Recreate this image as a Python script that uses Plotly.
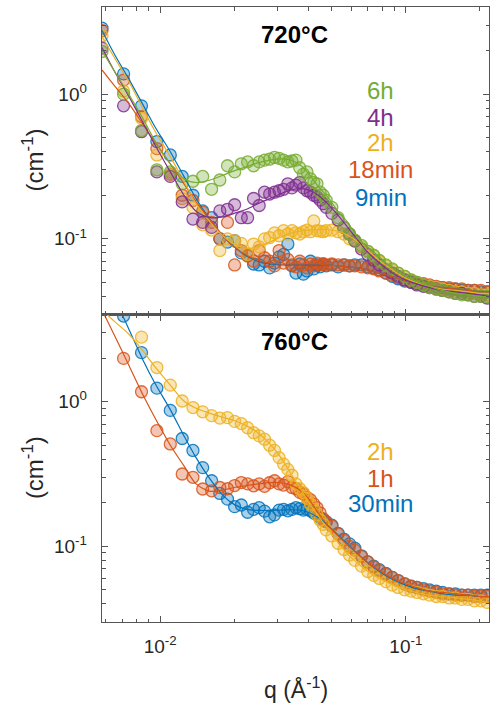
import math
import plotly.graph_objects as go

# ---------------- data ----------------
# scattering vector q (1/Angstrom) of the measured points
q = [0.0058, 0.0071, 0.0084, 0.0097, 0.0110, 0.0123, 0.0136, 0.0149, 0.0162, 0.0175,
     0.0188, 0.0201, 0.0214, 0.0227, 0.0240, 0.0253, 0.0266, 0.0279, 0.0292, 0.0305,
     0.0318, 0.0331, 0.0344, 0.0357, 0.0370, 0.0383, 0.0396, 0.0409, 0.0422, 0.0435,
     0.0448, 0.0461, 0.0474, 0.050, 0.053, 0.056, 0.059, 0.062, 0.066, 0.070,
     0.074, 0.078, 0.083, 0.088, 0.093, 0.099, 0.105, 0.111, 0.118, 0.125,
     0.133, 0.141, 0.150, 0.159, 0.169, 0.179, 0.190, 0.202, 0.214]

# 720 C panel
I720_9min = [2.86, 1.38, 0.83, 0.47, 0.38, 0.27, 0.20, 0.156, 0.14, 0.10,
             0.095, 0.097, 0.080, 0.077, 0.067, 0.066, 0.070, 0.063, 0.068, 0.075,
             0.078, 0.092, 0.065, 0.058, 0.067, 0.057, 0.060, 0.070, 0.062, 0.066,
             0.064, 0.067, 0.065, 0.066, 0.064, 0.066, 0.065, 0.066, 0.066, 0.064,
             0.063, 0.061, 0.058, 0.055, 0.053, 0.051, 0.050, 0.049, 0.048, 0.047,
             0.046, 0.046, 0.045, 0.045, 0.044, 0.044, 0.044, 0.043, 0.043]
I720_18min = [2.75, 1.25, 0.70, 0.42, 0.28, 0.20, 0.184, 0.153, 0.13, 0.10,
              0.13, 0.066, 0.083, 0.076, 0.070, 0.083, 0.074, 0.070, 0.065, 0.083,
              0.068, 0.072, 0.066, 0.064, 0.070, 0.066, 0.063, 0.067, 0.065, 0.068,
              0.066, 0.067, 0.066, 0.067, 0.066, 0.066, 0.065, 0.065, 0.064, 0.063,
              0.062, 0.060, 0.058, 0.056, 0.054, 0.052, 0.051, 0.050, 0.049, 0.048,
              0.047, 0.046, 0.046, 0.045, 0.045, 0.044, 0.044, 0.044, 0.043]
I720_2h = [2.53, 1.05, 0.68, 0.38, 0.28, 0.19, 0.165, 0.125, 0.115, 0.083,
           0.10, 0.097, 0.093, 0.078, 0.092, 0.088, 0.10, 0.102, 0.11, 0.105,
           0.114, 0.108, 0.114, 0.11, 0.108, 0.112, 0.115, 0.112, 0.133, 0.114,
           0.113, 0.112, 0.114, 0.115, 0.112, 0.108, 0.10, 0.096, 0.088, 0.082,
           0.076, 0.070, 0.065, 0.061, 0.058, 0.055, 0.052, 0.050, 0.048, 0.047,
           0.046, 0.045, 0.044, 0.043, 0.043, 0.042, 0.042, 0.041, 0.041]
I720_4h = [2.08, 0.83, 0.55, 0.29, 0.27, 0.18, 0.137, 0.13, 0.12, 0.156,
           0.16, 0.172, 0.14, 0.14, 0.19, 0.17, 0.21, 0.204, 0.21, 0.215,
           0.22, 0.24, 0.225, 0.235, 0.245, 0.225, 0.215, 0.21, 0.20, 0.195,
           0.185, 0.175, 0.165, 0.15, 0.135, 0.12, 0.108, 0.097, 0.085, 0.078,
           0.071, 0.066, 0.061, 0.058, 0.055, 0.052, 0.050, 0.048, 0.047, 0.046,
           0.045, 0.044, 0.043, 0.042, 0.042, 0.041, 0.040, 0.040, 0.039]
I720_6h = [1.97, 1.00, 0.56, 0.30, 0.29, 0.24, 0.25, 0.27, 0.22, 0.255,
           0.32, 0.29, 0.33, 0.34, 0.32, 0.34, 0.35, 0.355, 0.365, 0.36,
           0.35, 0.34, 0.345, 0.35, 0.31, 0.28, 0.29, 0.26, 0.245, 0.24,
           0.21, 0.20, 0.185, 0.165, 0.14, 0.12, 0.108, 0.098, 0.09, 0.082,
           0.077, 0.071, 0.066, 0.062, 0.058, 0.055, 0.052, 0.050, 0.048, 0.046,
           0.045, 0.044, 0.043, 0.042, 0.041, 0.041, 0.040, 0.040, 0.040]

# 760 C panel (None = point outside the visible range)
I760_30min = [None, 3.9, 2.18, 1.24, 0.87, 0.556, 0.46, 0.35, 0.284, 0.232,
              0.212, 0.188, 0.193, 0.172, 0.18, 0.185, 0.175, 0.16, 0.165, 0.178,
              0.18, 0.176, 0.18, 0.185, 0.182, 0.178, 0.18, 0.176, 0.17, 0.165,
              0.158, 0.152, 0.148, 0.14, 0.123, 0.112, 0.104, 0.097, 0.086, 0.078,
              0.073, 0.069, 0.065, 0.061, 0.058, 0.055, 0.053, 0.052, 0.051, 0.050,
              0.049, 0.048, 0.047, 0.047, 0.046, 0.046, 0.046, 0.046, 0.046]
I760_1h = [None, 1.99, 1.17, 0.63, 0.51, 0.316, 0.30, 0.249, 0.242, 0.255,
           0.25, 0.263, 0.276, 0.27, 0.262, 0.27, 0.26, 0.275, 0.284, 0.27,
           0.265, 0.28, 0.255, 0.25, 0.236, 0.23, 0.218, 0.21, 0.196, 0.185,
           0.17, 0.155, 0.148, 0.138, 0.122, 0.11, 0.10, 0.094, 0.085, 0.078,
           0.072, 0.068, 0.064, 0.061, 0.058, 0.055, 0.053, 0.052, 0.050, 0.049,
           0.048, 0.047, 0.047, 0.046, 0.046, 0.046, 0.045, 0.045, 0.045]
I760_2h = [None, None, 2.79, 1.72, 1.30, 1.01, 0.91, 0.85, 0.80, 0.77,
           0.775, 0.73, 0.705, 0.66, 0.61, 0.58, 0.55, 0.50, 0.46, 0.41,
           0.37, 0.34, 0.31, 0.27, 0.25, 0.235, 0.215, 0.196, 0.18, 0.165,
           0.152, 0.142, 0.13, 0.118, 0.105, 0.095, 0.087, 0.08, 0.073, 0.067,
           0.063, 0.06, 0.057, 0.054, 0.052, 0.05, 0.049, 0.048, 0.047, 0.046,
           0.045, 0.045, 0.044, 0.044, 0.043, 0.043, 0.042, 0.042, 0.041]

# model fit curves
q_fit = [0.0058, 0.0065, 0.0075, 0.0085, 0.0095, 0.011, 0.0125, 0.014, 0.016, 0.018,
         0.020, 0.0225, 0.025, 0.028, 0.031, 0.034, 0.037, 0.040, 0.044, 0.048,
         0.053, 0.058, 0.064, 0.070, 0.078, 0.087, 0.097, 0.11, 0.125, 0.14,
         0.16, 0.18, 0.20, 0.22]
fit720_9min = [2.75, 1.9, 1.25, 0.85, 0.6, 0.40, 0.27, 0.19, 0.135, 0.105,
               0.088, 0.076, 0.07, 0.067, 0.066, 0.066, 0.066, 0.066, 0.066, 0.066,
               0.065, 0.064, 0.063, 0.061, 0.058, 0.055, 0.052, 0.049, 0.047, 0.046,
               0.045, 0.044, 0.043, 0.043]
fit720_18min = [1.47, 1.15, 0.85, 0.62, 0.47, 0.33, 0.24, 0.18, 0.135, 0.105,
                0.088, 0.077, 0.071, 0.068, 0.067, 0.067, 0.067, 0.067, 0.067, 0.066,
                0.065, 0.064, 0.063, 0.061, 0.058, 0.055, 0.052, 0.049, 0.047, 0.046,
                0.045, 0.044, 0.043, 0.043]
fit720_2h = [2.5, 1.8, 1.2, 0.8, 0.56, 0.37, 0.25, 0.175, 0.13, 0.105,
             0.092, 0.086, 0.088, 0.095, 0.103, 0.109, 0.113, 0.115, 0.116, 0.116,
             0.113, 0.106, 0.095, 0.083, 0.071, 0.062, 0.055, 0.05, 0.047, 0.045,
             0.044, 0.043, 0.042, 0.042]
fit720_4h = [2.1, 1.45, 0.95, 0.64, 0.45, 0.29, 0.2, 0.155, 0.14, 0.142,
             0.15, 0.16, 0.175, 0.19, 0.205, 0.217, 0.222, 0.218, 0.2, 0.175,
             0.145, 0.12, 0.097, 0.081, 0.068, 0.059, 0.053, 0.049, 0.046, 0.044,
             0.043, 0.042, 0.041, 0.04]
fit720_6h = [2.0, 1.45, 0.98, 0.68, 0.48, 0.33, 0.26, 0.245, 0.255, 0.275,
             0.295, 0.315, 0.335, 0.35, 0.357, 0.35, 0.325, 0.285, 0.23, 0.195,
             0.155, 0.13, 0.1, 0.088, 0.075, 0.064, 0.057, 0.051, 0.047, 0.044,
             0.042, 0.041, 0.04, 0.04]
fit760_30min = [7.0, 5.2, 3.1, 1.95, 1.35, 0.88, 0.58, 0.41, 0.29, 0.225,
                0.195, 0.18, 0.177, 0.177, 0.178, 0.179, 0.178, 0.172, 0.158, 0.14,
                0.12, 0.103, 0.088, 0.077, 0.067, 0.06, 0.055, 0.051, 0.049, 0.047,
                0.046, 0.046, 0.045, 0.045]
fit760_1h = [4.3, 2.9, 1.75, 1.12, 0.78, 0.5, 0.36, 0.27, 0.24, 0.245,
             0.255, 0.263, 0.27, 0.276, 0.275, 0.265, 0.245, 0.215, 0.17, 0.14,
             0.118, 0.102, 0.088, 0.077, 0.068, 0.061, 0.056, 0.052, 0.049, 0.048,
             0.047, 0.046, 0.045, 0.045]
fit760_2h = [4.3, 3.6, 2.9, 2.25, 1.75, 1.3, 1.01, 0.9, 0.83, 0.78,
             0.74, 0.68, 0.61, 0.51, 0.41, 0.32, 0.255, 0.205, 0.162, 0.133,
             0.106, 0.088, 0.076, 0.067, 0.06, 0.055, 0.051, 0.048, 0.046, 0.045,
             0.044, 0.043, 0.042, 0.041]

labels720 = ["6h", "4h", "2h", "18min", "9min"]
labels760 = ["2h", "1h", "30min"]

# ---------------- style ----------------
BLUE, ORANGE, YELLOW, PURPLE, GREEN = "#0072BD", "#D95319", "#EDB120", "#7E2F8E", "#77AC30"
FONT = "Liberation Sans, Arial, Helvetica, sans-serif"
AXC = "#555555"
TXT = "#262626"


def rgba(h, a):
    h = h.lstrip("#")
    return "rgba(%d,%d,%d,%.2f)" % (int(h[0:2], 16), int(h[2:4], 16), int(h[4:6], 16), a)


fig = go.Figure()

top = [(I720_9min, fit720_9min, BLUE), (I720_18min, fit720_18min, ORANGE),
       (I720_2h, fit720_2h, YELLOW), (I720_4h, fit720_4h, PURPLE),
       (I720_6h, fit720_6h, GREEN)]
bot = [(I760_30min, fit760_30min, BLUE), (I760_1h, fit760_1h, ORANGE),
       (I760_2h, fit760_2h, YELLOW)]

for series, xa, ya in ((top, "x", "y"), (bot, "x2", "y2")):
    for vals, fit, col in series:
        fig.add_trace(go.Scatter(
            x=q, y=vals, mode="markers", xaxis=xa, yaxis=ya, showlegend=False,
            hoverinfo="skip",
            marker=dict(symbol="circle", size=12, color=rgba(col, 0.33),
                        line=dict(color=rgba(col, 0.85), width=1.3))))
    for vals, fit, col in series:
        fig.add_trace(go.Scatter(
            x=q_fit, y=fit, mode="lines", xaxis=xa, yaxis=ya, showlegend=False,
            hoverinfo="skip",
            line=dict(color=col, width=1.2, shape="spline", smoothing=0.8)))

xrange_ = [math.log10(0.0058), math.log10(0.218)]
yrange_ = [math.log10(0.03), math.log10(4.0)]

xminor = [0.006, 0.007, 0.008, 0.009, 0.02, 0.03, 0.04, 0.05, 0.06, 0.07, 0.08, 0.09, 0.2]
yminor = [0.03, 0.04, 0.05, 0.06, 0.07, 0.08, 0.09, 0.2, 0.3, 0.4, 0.5, 0.6, 0.7, 0.8, 0.9, 2, 3, 4]

common_ax = dict(type="log", showline=True, linecolor=AXC, linewidth=1.3, mirror="ticks",
                 ticks="inside", ticklen=6, tickwidth=1, tickcolor=AXC, showgrid=False,
                 zeroline=False, automargin=False,
                 tickfont=dict(family=FONT, size=19, color=TXT))

xax = dict(common_ax, range=xrange_, tickmode="array", tickvals=[0.01, 0.1],
           ticktext=["10<sup>-2</sup>", "10<sup>-1</sup>"],
           minor=dict(tickmode="array", tickvals=xminor, ticks="inside", ticklen=3.5,
                      tickcolor=AXC, showgrid=False))
yax = dict(common_ax, range=yrange_, tickmode="array", tickvals=[0.1, 1],
           ticktext=["10<sup>-1</sup>", "10<sup>0</sup>"], ticklabelstandoff=10,
           minor=dict(tickmode="array", tickvals=yminor, ticks="inside", ticklen=3.5,
                      tickcolor=AXC, showgrid=False))

fig.update_layout(
    width=492, height=708,
    margin=dict(l=102, r=3, t=7, b=86, autoexpand=False),
    paper_bgcolor="white", plot_bgcolor="white",
    hovermode=False,
    xaxis=dict(xax, domain=[0, 1], anchor="y", showticklabels=False),
    yaxis=dict(yax, domain=[0.5, 1], anchor="x"),
    xaxis2=dict(xax, domain=[0, 1], anchor="y2", ticklabelstandoff=7),
    yaxis2=dict(yax, domain=[0, 0.5], anchor="x2"),
)

ann = []


def add_text(x, y, text, size, color, bold=False, angle=0):
    ann.append(dict(x=x, y=y, xref="paper", yref="paper", text=("<b>%s</b>" % text) if bold else text,
                    showarrow=False, xanchor="center", yanchor="middle", textangle=angle,
                    font=dict(family=FONT, size=size, color=color)))


add_text(0.4987, 0.9545, "720°C", 24, "black", bold=True)
add_text(0.4987, 0.4553, "760°C", 24, "black", bold=True)

top_cols = [GREEN, PURPLE, YELLOW, ORANGE, BLUE]
top_y = [0.865, 0.821, 0.779, 0.735, 0.691]
for lab, c, yy in zip(labels720, top_cols, top_y):
    add_text(0.7209, yy, lab, 24, c)

bot_cols = [YELLOW, ORANGE, BLUE]
bot_y = [0.2769, 0.2341, 0.1919]
for lab, c, yy in zip(labels760, bot_cols, bot_y):
    add_text(0.7209, yy, lab, 24, c)

add_text(-0.178, 0.7507, "(cm<sup>-1</sup>)", 24, TXT, angle=-90)
add_text(-0.178, 0.2504, "(cm<sup>-1</sup>)", 24, TXT, angle=-90)
add_text(0.5, -0.1073, "q (Å<sup>-1</sup>)", 23, TXT)

fig.update_layout(annotations=ann)
fig.write_html("out.html", config={"displayModeBar": False, "staticPlot": True},
               post_script="document.body.style.margin='0';document.body.style.overflow='hidden';")
